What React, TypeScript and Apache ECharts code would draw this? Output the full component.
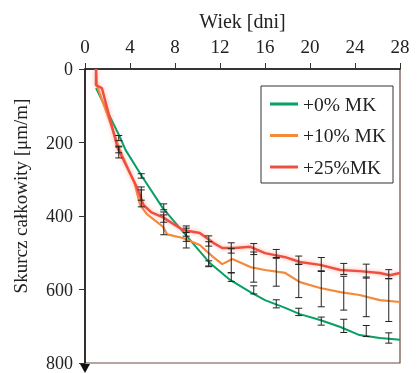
import React, { useEffect, useRef } from "react";
import * as echarts from "echarts";

const seriesNames = ["+0% MK", "+10% MK", "+25%MK"];
const colors = ["#06a064", "#f5893a", "#ee5040"];

const xTicks = [0, 4, 8, 12, 16, 20, 24, 28];
const yTicks = [0, 200, 400, 600, 800];

// +0% MK
const greenDays = [0.98, 3.1, 3.6, 5.1, 6.9, 9.1, 11.1, 12.9, 14.7, 16.0, 17.8, 19.1, 20.9, 22.7, 24.4, 26.2, 28.0];
const greenVals = [52, 185, 220, 294, 378, 457, 528, 574, 607, 629, 650, 667, 683, 702, 724, 732, 737];

// +10% MK
const orangeDays = [0.98, 1.07, 3.1, 4.4, 4.9, 5.5, 6.9, 7.3, 8.7, 10.2, 11.4, 12.2, 13.1, 14.7, 16.0, 17.8, 19.1, 20.9, 22.7, 24.4, 26.2, 28.0];
const orangeVals = [0, 46, 220, 310, 370, 395, 428, 450, 460, 479, 512, 531, 517, 539, 547, 555, 580, 596, 607, 615, 629, 634];

// +25%MK
const redDays = [0.98, 0.98, 1.5, 2.9, 4.6, 5.2, 5.9, 6.9, 8.7, 10.2, 11.4, 12.2, 13.3, 14.7, 16.0, 17.8, 19.1, 20.9, 22.7, 24.4, 26.2, 27.1, 28.0];
const redVals = [0, 44, 52, 215, 321, 370, 390, 403, 438, 446, 473, 487, 487, 484, 501, 512, 525, 533, 547, 550, 555, 561, 555];

// error bars (days 3..27)
const errDays = [3, 5, 7, 9, 11, 13, 15, 17, 19, 21, 23, 25, 27];
const greenErrMid = [188, 291, 375, 457, 530, 566, 601, 639, 661, 686, 699, 713, 732];
const greenErr = [7, 6, 8, 12, 8, 12, 11, 11, 10, 11, 18, 15, 14];
const orangeErrMid = [226, 348, 424, 460, 503, 522, 539, 552, 577, 599, 610, 620, 629];
const orangeErr = [16, 27, 27, 27, 33, 33, 41, 39, 45, 48, 46, 54, 58];
const redErrMid = [220, 343, 403, 441, 468, 487, 490, 503, 520, 531, 544, 550, 558];
const redErr = [8, 14, 14, 14, 14, 14, 15, 12, 11, 18, 15, 19, 12];

const FONT = "Liberation Serif";

export default function App() {
  const ref = useRef<HTMLDivElement>(null);
  useEffect(() => {
    const chart = echarts.init(ref.current!, null, { renderer: "svg" });
    const zip = (a: number[], b: number[]) => a.map((d, i) => [d, b[i]]);
    const errData = (mid: number[], e: number[]) => errDays.map((d, i) => [d, mid[i], e[i]]);
    const errSeries = (data: number[][]) => ({
      type: "custom",
      silent: true,
      z: 5,
      encode: { x: 0, y: 1 },
      data,
      renderItem: (params: any, api: any) => {
        const x = api.value(0), c = api.value(1), e = api.value(2);
        const t = api.coord([x, c - e]);
        const b = api.coord([x, c + e]);
        const w = 3.5;
        const st = { stroke: "#222", lineWidth: 1 };
        return {
          type: "group",
          children: [
            { type: "line", shape: { x1: t[0], y1: t[1], x2: b[0], y2: b[1] }, style: st },
            { type: "line", shape: { x1: t[0] - w, y1: t[1], x2: t[0] + w, y2: t[1] }, style: st },
            { type: "line", shape: { x1: b[0] - w, y1: b[1], x2: b[0] + w, y2: b[1] }, style: st },
          ],
        };
      },
    });
    const lineSeries = (name: string, color: string, data: number[][], width: number, halo: boolean) => ({
      type: "line",
      name,
      data,
      showSymbol: false,
      symbol: "none",
      z: 3,
      lineStyle: {
        color,
        width,
        ...(halo ? { shadowColor: "rgba(245,120,100,0.6)", shadowBlur: 4 } : {}),
      },
      itemStyle: { color },
    });
    chart.setOption({
      animation: false,
      textStyle: { fontFamily: FONT },
      grid: { left: 85, top: 69, right: 17, bottom: 10, show: true, borderColor: "#6e4a44", borderWidth: 1.2, backgroundColor: "transparent" },
      legend: {
        orient: "vertical",
        left: 270,
        top: 94,
        padding: 0,
        itemGap: 11.5,
        itemWidth: 28,
        itemHeight: 3,
        icon: "rect",
        data: seriesNames,
        textStyle: { fontFamily: FONT, fontSize: 19.5, color: "#222" },
      },
      xAxis: {
        type: "value",
        position: "top",
        min: xTicks[0],
        max: xTicks[xTicks.length - 1],
        interval: 4,
        name: "Wiek [dni]",
        nameLocation: "middle",
        nameGap: 38,
        nameTextStyle: { fontFamily: FONT, fontSize: 20, color: "#222" },
        axisLine: { show: true, lineStyle: { color: "#111", width: 1.5 } },
        axisTick: { show: true, inside: false, length: 6, lineStyle: { color: "#333" } },
        axisLabel: { fontFamily: FONT, fontSize: 19, color: "#222", margin: 13 },
        splitLine: { show: false },
      },
      yAxis: {
        type: "value",
        inverse: true,
        min: yTicks[0],
        max: yTicks[yTicks.length - 1],
        interval: 200,
        axisLine: { show: true, lineStyle: { color: "#111", width: 1.5 } },
        axisTick: { show: true, inside: false, length: 6, lineStyle: { color: "#333" } },
        axisLabel: { fontFamily: FONT, fontSize: 18, color: "#222", margin: 12 },
        splitLine: { show: false },
      },
      graphic: [
        {
          type: "rect",
          shape: { x: 261, y: 86, width: 132, height: 97 },
          style: { fill: "#fff", stroke: "#333", lineWidth: 1 },
          z: 1,
          silent: true,
        },
        {
          type: "polygon",
          shape: { points: [[80, 364], [90, 364], [85, 373]] },
          style: { fill: "#111" },
          z: 10,
          silent: true,
        },
        {
          type: "text",
          x: 20,
          y: 196,
          rotation: Math.PI / 2,
          style: { text: "Skurcz całkowity [μm/m]", fontFamily: FONT, fontSize: 19, fill: "#222", align: "center", verticalAlign: "middle" },
        },
      ],
      series: [
        lineSeries(seriesNames[0], colors[0], zip(greenDays, greenVals), 2, false),
        lineSeries(seriesNames[1], colors[1], zip(orangeDays, orangeVals), 2.2, false),
        lineSeries(seriesNames[2], colors[2], zip(redDays, redVals), 2.5, true),
        errSeries(errData(greenErrMid, greenErr)),
        errSeries(errData(orangeErrMid, orangeErr)),
        errSeries(errData(redErrMid, redErr)),
      ],
    });
    return () => chart.dispose();
  }, []);
  return <div ref={ref} style={{ position: "fixed", left: 0, top: 0, width: 417, height: 373 }} />;
}
